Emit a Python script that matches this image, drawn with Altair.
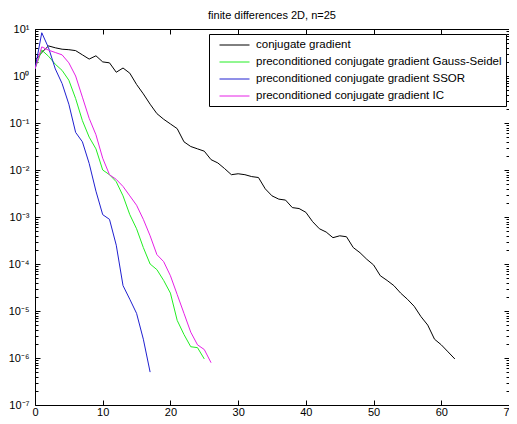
import altair as alt
import pandas as pd

# log10 of residual norm per iteration
cg_log = [0.33, 0.5, 0.64, 0.6, 0.57, 0.56, 0.54, 0.45, 0.36, 0.43, 0.30, 0.28, 0.08, 0.17, 0.06,
          -0.18, -0.38, -0.6, -0.8, -0.92, -1.02, -1.12, -1.4, -1.5, -1.55, -1.6, -1.78, -1.85,
          -1.97, -2.1, -2.08, -2.1, -2.14, -2.16, -2.4, -2.55, -2.62, -2.64, -2.8, -2.82, -2.9,
          -3.1, -3.25, -3.32, -3.44, -3.4, -3.42, -3.65, -3.76, -3.9, -4.02, -4.25, -4.35, -4.46,
          -4.62, -4.75, -4.9, -5.12, -5.3, -5.6, -5.72, -5.87, -6.02]
gs_log = [0.15, 0.55, 0.42, 0.25, 0.12, -0.09, -0.48, -0.95, -1.3, -1.55, -2.0, -2.1, -2.25,
          -2.55, -2.95, -3.25, -3.65, -4.0, -4.12, -4.35, -4.62, -5.2, -5.5, -5.76, -5.78, -6.02]
ssor_log = [0.15, 0.92, 0.6, 0.15, -0.16, -0.6, -1.2, -1.4, -1.86, -2.45, -2.95, -3.05, -3.6,
            -4.46, -4.75, -5.05, -5.6, -6.3]
ic_log = [0.15, 0.62, 0.55, 0.5, 0.45, 0.28, 0.0, -0.45, -0.9, -1.25, -1.75, -2.1, -2.2, -2.35,
          -2.55, -2.75, -3.05, -3.4, -3.8, -3.95, -4.25, -4.65, -5.05, -5.45, -5.72, -5.82, -6.1]

names = ["conjugate gradient",
         "preconditioned conjugate gradient Gauss-Seidel",
         "preconditioned conjugate gradient SSOR",
         "preconditioned conjugate gradient IC"]
colors = ["#000000", "#22ee22", "#2020d0", "#e620e6"]

x_ticks = [0, 10, 20, 30, 40, 50, 60, 70]
y_exps = [1, 0, -1, -2, -3, -4, -5, -6, -7]
y_labels = ["10\u00b9", "10\u2070", "10\u207b\u00b9", "10\u207b\u00b2", "10\u207b\u00b3",
            "10\u207b\u2074", "10\u207b\u2075", "10\u207b\u2076", "10\u207b\u2077"]

rows = []
for name, vals in zip(names, [cg_log, gs_log, ssor_log, ic_log]):
    for k, v in enumerate(vals):
        rows.append({"iter": k, "res": 10 ** v, "method": name})
df = pd.DataFrame(rows)

y_major = [10.0 ** e for e in y_exps]
y_minor = [m * 10.0 ** e for e in range(-7, 1) for m in range(2, 10)]

label_expr = ""
for e, lab in zip(y_exps, y_labels):
    label_expr += f"datum.value > {10.0 ** e / 2} ? '{lab}' : "
label_expr += "''"

W, H = 474, 376
FONT = "Liberation Sans"

xs = alt.Scale(domain=[0, 70], nice=False, zero=False)
ys = alt.Scale(type="log", domain=[1e-7, 10], nice=False)

base = alt.Chart(df)

lines = base.mark_line(strokeWidth=1, clip=True).encode(
    x=alt.X("iter:Q", scale=xs, title=None,
            axis=alt.Axis(values=x_ticks, ticks=False, labelPadding=1, grid=False,
                          domainColor="black", labelColor="black", labelFontSize=11,
                          labelFont=FONT, labelFlush=False)),
    y=alt.Y("res:Q", scale=ys, title=None,
            axis=alt.Axis(values=y_major, ticks=False, labelExpr=label_expr, labelPadding=6,
                          grid=False, domainColor="black", labelColor="black",
                          labelFontSize=11, labelFont=FONT)),
    color=alt.Color("method:N", scale=alt.Scale(domain=names, range=colors),
                    legend=alt.Legend(title=None, orient="none", legendX=174, legendY=5,
                                      symbolType="M-0.077,0H4.54", symbolSize=169,
                                      symbolStrokeWidth=1, symbolFillColor="transparent",
                                      labelOffset=29, rowPadding=4, padding=4,
                                      strokeColor="black", fillColor="white",
                                      labelFontSize=11.5, labelFont=FONT, labelColor="black",
                                      labelLimit=400)),
)

def tick_layer(xaxis, yaxis):
    return base.mark_point(opacity=0).encode(
        x=alt.X("iter:Q", scale=xs, title=None, axis=xaxis),
        y=alt.Y("res:Q", scale=ys, title=None, axis=yaxis),
    )

common = dict(labels=False, grid=False, tickColor="black", domainColor="black")
t1 = tick_layer(alt.Axis(orient="bottom", offset=-H, values=x_ticks, tickSize=5, domain=True, **common),
                alt.Axis(orient="right", offset=-W, values=y_major, tickSize=5, domain=False, **common))
t2 = tick_layer(alt.Axis(orient="top", offset=-H, values=x_ticks, tickSize=5, domain=False, **common),
                alt.Axis(orient="right", offset=-W, values=y_minor, tickSize=3, domain=False, **common))
t3 = tick_layer(None,
                alt.Axis(orient="left", offset=-W, values=y_major, tickSize=5, domain=True, **common))
t4 = tick_layer(None,
                alt.Axis(orient="left", offset=-W, values=y_minor, tickSize=3, domain=False, **common))

chart = alt.layer(lines, t1, t2, t3, t4).resolve_axis(x="independent", y="independent").properties(
    width=W, height=H,
    autosize=alt.AutoSizeParams(type="none"),
    padding={"left": 27, "top": 21, "right": 0, "bottom": 11},
    title=alt.TitleParams("finite differences 2D, n=25", fontSize=11, font=FONT,
                          fontWeight="normal", color="black", offset=0, dy=-2, anchor="middle",
                          frame="group"),
    background="white",
).configure_view(stroke=None)

chart.save("out.html", embed_options={"renderer": "svg", "actions": False})
